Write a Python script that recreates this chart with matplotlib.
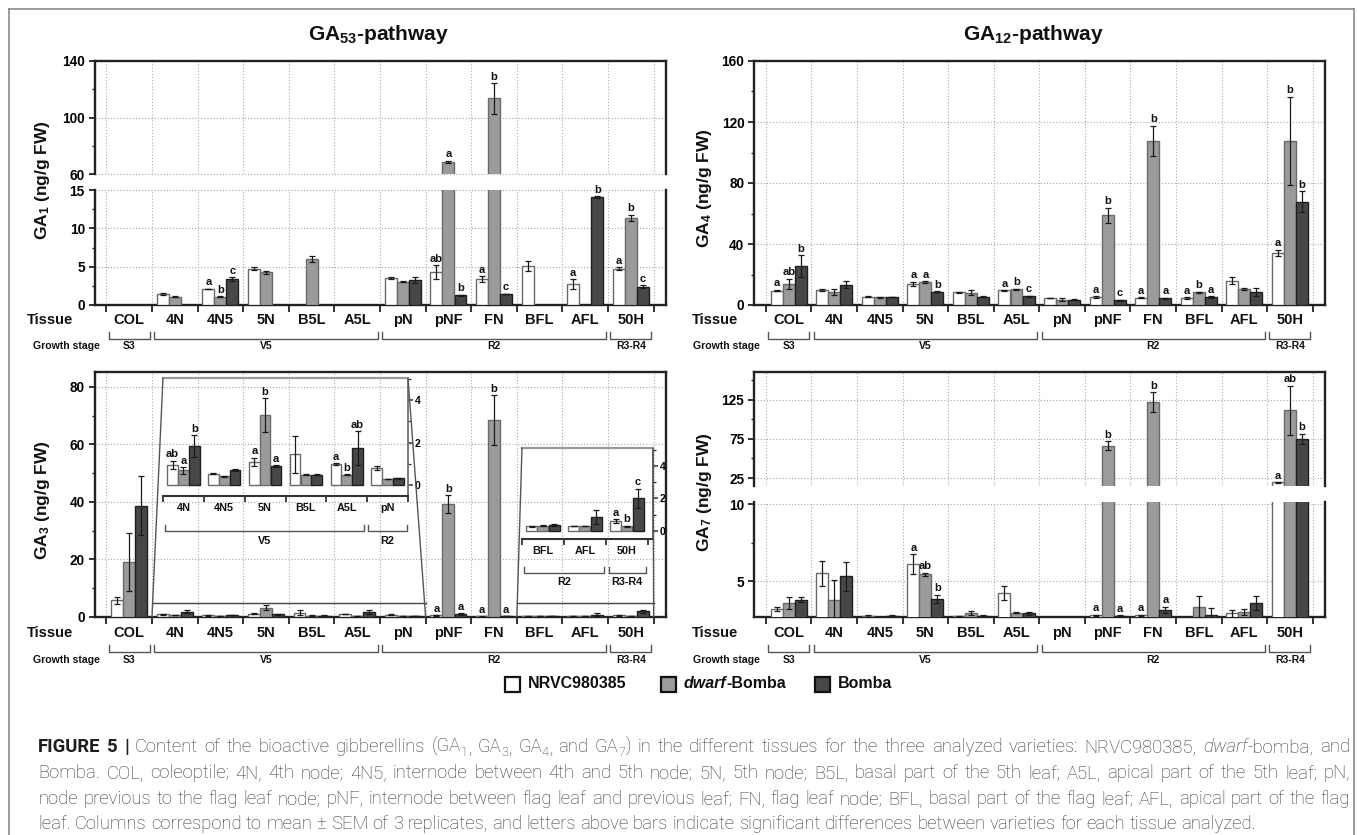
import re
import numpy as np
import matplotlib
matplotlib.use("Agg")
import matplotlib.pyplot as plt
from matplotlib import font_manager as fm
from matplotlib.transforms import blended_transform_factory
from matplotlib.patches import Rectangle, ConnectionPatch
from matplotlib.lines import Line2D

nan = np.nan

# ---------------- data ----------------
tissues = ["COL", "4N", "4N5", "5N", "B5L", "A5L", "pN", "pNF", "FN", "BFL", "AFL", "50H"]
stages = ["S3", "V5", "R2", "R3-R4"]
stage_first = [0, 1, 6, 11]
stage_last = [0, 5, 10, 11]
varieties = ["NRVC980385", "dwarf-Bomba", "Bomba"]

# GA1 (ng/g FW)
ga1_nrvc = [nan, 1.45, 2.1, 4.75, nan, nan, 3.5, 4.3, 3.4, 5.1, 2.7, 4.75]
ga1_nrvc_err = [0, 0.1, 0.05, 0.2, 0, 0, 0.12, 0.9, 0.35, 0.7, 0.65, 0.15]
ga1_dwarf = [nan, 1.1, 1.1, 4.3, 6.0, nan, 3.05, 68.7, 113.5, nan, nan, 11.4]
ga1_dwarf_err = [0, 0.03, 0.05, 0.2, 0.45, 0, 0.05, 0.6, 10.8, 0, 0, 0.4]
ga1_bomba = [nan, nan, 3.35, nan, nan, nan, 3.3, 1.25, 1.45, nan, 14.1, 2.4]
ga1_bomba_err = [0, 0, 0.25, 0, 0, 0, 0.4, 0.08, 0.05, 0, 0.1, 0.2]
ga1_let_nrvc = ["", "", "a", "", "", "", "", "ab", "a", "", "a", "a"]
ga1_let_dwarf = ["", "", "b", "", "", "", "", "a", "b", "", "", "b"]
ga1_let_bomba = ["", "", "c", "", "", "", "", "b", "c", "", "b", "c"]

# GA4
ga4_nrvc = [9.5, 9.8, 5.4, 14.0, 8.3, 9.6, 4.5, 5.3, 4.8, 4.5, 16.0, 34.3]
ga4_nrvc_err = [0.5, 0.7, 0.2, 1.3, 0.5, 0.3, 0.2, 0.4, 0.2, 0.5, 2.5, 2.0]
ga4_dwarf = [14.0, 8.5, 5.0, 15.0, 8.0, 10.2, 3.6, 58.8, 107.5, 8.3, 10.6, 107.5]
ga4_dwarf_err = [3.2, 2.2, 0.2, 0.5, 1.6, 0.4, 0.7, 5.0, 10.0, 0.4, 0.7, 29.0]
ga4_bomba = [25.5, 13.3, 5.3, 8.8, 5.5, 5.8, 3.5, 3.0, 4.3, 5.2, 8.4, 67.8]
ga4_bomba_err = [7.2, 2.3, 0.2, 0.3, 0.2, 0.4, 0.2, 0.6, 0.5, 0.5, 2.5, 6.8]
ga4_let_nrvc = ["a", "", "", "a", "", "a", "", "a", "a", "a", "", "a"]
ga4_let_dwarf = ["ab", "", "", "a", "", "b", "", "b", "b", "b", "", "b"]
ga4_let_bomba = ["b", "", "", "b", "", "c", "", "c", "a", "a", "", "b"]

# GA3
ga3_nrvc = [5.8, 0.95, 0.55, 1.1, 1.45, 1.0, 0.8, 0.6, 0.2, 0.28, 0.3, 0.6]
ga3_nrvc_err = [1.2, 0.2, 0.03, 0.2, 0.85, 0.03, 0.1, 0.1, 0.05, 0.03, 0.02, 0.12]
ga3_dwarf = [19.2, 0.7, 0.42, 3.3, 0.5, 0.5, 0.3, 39.2, 68.5, 0.32, 0.3, 0.28]
ga3_dwarf_err = [10.0, 0.15, 0.02, 0.8, 0.03, 0.02, 0.02, 3.2, 8.7, 0.03, 0.02, 0.03]
ga3_bomba = [38.7, 1.85, 0.72, 0.9, 0.5, 1.75, 0.33, 1.0, 0.3, 0.37, 0.85, 2.0]
ga3_bomba_err = [10.3, 0.5, 0.03, 0.05, 0.03, 0.8, 0.02, 0.4, 0.05, 0.05, 0.45, 0.6]
ga3_let_nrvc = ["", "ab", "", "a", "", "a", "", "a", "a", "", "", "a"]
ga3_let_dwarf = ["", "a", "", "b", "", "b", "", "b", "b", "", "", "b"]
ga3_let_bomba = ["", "b", "", "a", "", "ab", "", "a", "a", "", "", "c"]
ga3_inset1_idx = [1, 2, 3, 4, 5, 6]
ga3_inset2_idx = [9, 10, 11]
ga3_main_letter_idx = [7, 8]

# GA7
ga7_nrvc = [3.2, 5.5, 2.75, 6.1, 2.72, 4.25, nan, 2.78, 2.78, nan, 2.9, 19.5]
ga7_nrvc_err = [0.13, 0.8, 0.05, 0.65, 0.03, 0.45, 0, 0.05, 0.05, 0, 0.22, 0.3]
ga7_dwarf = [3.58, 3.8, nan, 5.43, 2.93, 2.95, nan, 66.3, 122.0, 3.35, 3.0, 111.4]
ga7_dwarf_err = [0.4, 1.25, 0, 0.12, 0.13, 0.03, 0, 6.0, 12.5, 0.65, 0.18, 31.0]
ga7_bomba = [3.8, 5.3, 2.75, 3.86, 2.72, 2.9, nan, 2.74, 3.15, 2.78, 3.55, 74.8]
ga7_bomba_err = [0.18, 0.95, 0.08, 0.25, 0.06, 0.08, 0, 0.04, 0.2, 0.45, 0.45, 6.5]
ga7_let_nrvc = ["", "", "", "a", "", "", "", "a", "a", "", "", "a"]
ga7_let_dwarf = ["", "", "", "ab", "", "", "", "b", "b", "", "", "ab"]
ga7_let_bomba = ["", "", "", "b", "", "", "", "a", "a", "", "", "b"]

caption_lines = [
    "**FIGURE** **5** **|** Content of the bioactive gibberellins (GA_{1}, GA_{3}, GA_{4}, and GA_{7}) in the different tissues for the three analyzed varieties: NRVC980385, *dwarf*-bomba, and",
    "Bomba. COL, coleoptile; 4N, 4th node; 4N5, internode between 4th and 5th node; 5N, 5th node; B5L, basal part of the 5th leaf; A5L, apical part of the 5th leaf; pN,",
    "node previous to the flag leaf node; pNF, internode between flag leaf and previous leaf; FN, flag leaf node; BFL, basal part of the flag leaf; AFL, apical part of the flag",
    "leaf. Columns correspond to mean \u00b1 SEM of 3 replicates, and letters above bars indicate significant differences between varieties for each tissue analyzed.",
]

# ---------------- fonts ----------------
def font_ok(name):
    try:
        fm.findfont(fm.FontProperties(family=name), fallback_to_default=False)
        return True
    except Exception:
        return False

MAIN = "Liberation Sans" if font_ok("Liberation Sans") else "DejaVu Sans"
CAPF = "Roboto" if font_ok("Roboto") else MAIN
plt.rcParams["font.family"] = [MAIN, "DejaVu Sans"]
plt.rcParams["mathtext.fontset"] = "custom"
plt.rcParams["mathtext.rm"] = MAIN
plt.rcParams["mathtext.bf"] = MAIN + ":bold"
plt.rcParams["mathtext.it"] = MAIN + ":italic"

# ---------------- layout ----------------
W, H, DPI = 1357, 835, 100
fig = plt.figure(figsize=(W / DPI, H / DPI), dpi=DPI)
fig.patch.set_facecolor("white")


def fx(x):
    return x / W


def fy(y):
    return 1 - y / H


def add_ax(x0, y0, x1, y1):
    return fig.add_axes([x0 / W, 1 - y1 / H, (x1 - x0) / W, (y1 - y0) / H])


XLIM = (-0.76, 11.77)
DIV = np.arange(-0.5, 12.0, 1.0)
XS = np.arange(12)
OFF = [-0.265, 0.0, 0.265]
BW = 0.262
FC = ["white", "#9b9b9b", "#474747"]
EC = ["#6a6a6a", "#6a6a6a", "#1f1f1f"]
GRIDC = "#a9a9a9"
SPC = "#222222"
GRID_LS = (0, (1.0, 1.8))


def setup_axis(ax, ylim, major, minor, bottom=True, top=True):
    ax.set_xlim(*XLIM)
    ax.set_ylim(*ylim)
    ax.patch.set_alpha(0)
    for sp in ax.spines.values():
        sp.set_linewidth(1.7)
        sp.set_color(SPC)
    ax.spines["bottom"].set_visible(bottom)
    ax.spines["top"].set_visible(top)
    ax.set_yticks(major, labels=["%g" % m for m in major], fontsize=9.8, fontweight="bold")
    ax.set_yticks(minor, minor=True)
    ax.tick_params(axis="y", which="major", direction="out", length=4.5, width=1.3,
                   color=SPC, pad=2.5)
    ax.tick_params(axis="y", which="minor", direction="out", length=2.5, width=1.0, color=SPC)
    if bottom:
        ax.set_xticks(DIV, labels=[])
        ax.tick_params(axis="x", which="major", direction="out", length=5, width=1.3, color=SPC)
    else:
        ax.set_xticks([])
    ax.set_xticks([], minor=True)
    for d in DIV:
        ax.axvline(d, color=GRIDC, lw=0.8, ls=GRID_LS, zorder=0.5)
    lo, hi = ylim
    for m in major:
        if lo <= m <= hi:
            ax.axhline(m, color=GRIDC, lw=0.8, ls=GRID_LS, zorder=0.5, clip_on=False)


def draw_bars(ax, vals, errs, xs, width=BW, offs=OFF, lw=1.0, cap=2.3):
    for k in range(3):
        v = np.asarray(vals[k], float)
        e = np.asarray(errs[k], float)
        x = np.asarray(xs, float) + offs[k]
        m = ~np.isnan(v)
        ax.bar(x[m], v[m], width, color=FC[k], edgecolor=EC[k], linewidth=lw, zorder=3)
        me = m & (e > 0)
        if me.any():
            ax.errorbar(x[me], v[me], yerr=e[me], fmt="none", ecolor="#1a1a1a",
                        elinewidth=0.9, capsize=cap, capthick=0.9, zorder=4)


def draw_letters(axes, vals, errs, lets, xs, idx=None, offs=OFF, size=8):
    n = len(xs)
    for k in range(3):
        for i in range(n):
            if idx is not None and i not in idx:
                continue
            l = lets[k][i]
            if not l:
                continue
            top = vals[k][i] + errs[k][i]
            ax = axes[0]
            for a in axes:
                if a.get_ylim()[0] <= top:
                    ax = a
            ax.annotate(l, (xs[i] + offs[k], top), xytext=(0, 1.0), textcoords="offset points",
                        ha="center", va="bottom", fontsize=size, fontweight="bold",
                        color="#111", zorder=6)


def bracket(tr, x0, x1, y0, y1, color="#555", lw=1.0):
    fig.add_artist(Line2D([x0, x0, x1, x1], [fy(y0), fy(y1), fy(y1), fy(y0)],
                          transform=tr, color=color, lw=lw, clip_on=False))


def tissue_row(ax, y_t, y_b0, y_b1, y_s, tissue_px, gs_px):
    tr = blended_transform_factory(ax.transData, fig.transFigure)
    for i, t in enumerate(tissues):
        fig.text(i, fy(y_t), t, transform=tr, ha="center", va="center",
                 fontsize=10.5, fontweight="bold", color="#111")
    fig.text(fx(tissue_px), fy(y_t), "Tissue", ha="center", va="center",
             fontsize=10.5, fontweight="bold", color="#111")
    fig.text(fx(gs_px), fy(y_s), "Growth stage", ha="left", va="center",
             fontsize=7.6, fontweight="bold", color="#111")
    for s, a, b in zip(stages, stage_first, stage_last):
        x0, x1 = a - 0.45, b + 0.45
        bracket(tr, x0, x1, y_b0, y_b1)
        fig.text((x0 + x1) / 2, fy(y_s), s, transform=tr, ha="center", va="center",
                 fontsize=7.5, fontweight="bold", color="#111")


LX0, LX1 = 94.5, 666
RX0, RX1 = 754, 1325

# ---------------- GA1 (broken) ----------------
ga1_vals = [ga1_nrvc, ga1_dwarf, ga1_bomba]
ga1_errs = [ga1_nrvc_err, ga1_dwarf_err, ga1_bomba_err]
ga1_lets = [ga1_let_nrvc, ga1_let_dwarf, ga1_let_bomba]
a1u = add_ax(LX0, 61, LX1, 174)
a1l = add_ax(LX0, 190, LX1, 305)
setup_axis(a1u, (60, 140), [60, 100, 140], [80, 120], bottom=False, top=True)
setup_axis(a1l, (0, 15), [0, 5, 10, 15], [2.5, 7.5, 12.5], bottom=True, top=False)
for a in (a1u, a1l):
    draw_bars(a, ga1_vals, ga1_errs, XS)
draw_letters([a1l, a1u], ga1_vals, ga1_errs, ga1_lets, XS)
tissue_row(a1l, 320, 332, 339, 346, 50, 33)
fig.text(fx(378), fy(35), r"GA$_\mathbf{53}$-pathway", ha="center", va="center",
         fontsize=15, fontweight="bold", color="#111")
fig.text(fx(43), fy(180), r"GA$_\mathbf{1}$ (ng/g FW)", rotation=90, ha="center",
         va="center", fontsize=12.5, fontweight="bold", color="#111")

# ---------------- GA4 ----------------
ga4_vals = [ga4_nrvc, ga4_dwarf, ga4_bomba]
ga4_errs = [ga4_nrvc_err, ga4_dwarf_err, ga4_bomba_err]
ga4_lets = [ga4_let_nrvc, ga4_let_dwarf, ga4_let_bomba]
a4 = add_ax(RX0, 61, RX1, 305)
setup_axis(a4, (0, 160), [0, 40, 80, 120, 160], [20, 60, 100, 140])
draw_bars(a4, ga4_vals, ga4_errs, XS)
draw_letters([a4], ga4_vals, ga4_errs, ga4_lets, XS)
tissue_row(a4, 320, 332, 339, 346, 715, 693)
fig.text(fx(1033), fy(35), r"GA$_\mathbf{12}$-pathway", ha="center", va="center",
         fontsize=15, fontweight="bold", color="#111")
fig.text(fx(705), fy(188), r"GA$_\mathbf{4}$ (ng/g FW)", rotation=90, ha="center",
         va="center", fontsize=12.5, fontweight="bold", color="#111")

# ---------------- GA3 with insets ----------------
ga3_vals = [ga3_nrvc, ga3_dwarf, ga3_bomba]
ga3_errs = [ga3_nrvc_err, ga3_dwarf_err, ga3_bomba_err]
ga3_lets = [ga3_let_nrvc, ga3_let_dwarf, ga3_let_bomba]
a3 = add_ax(LX0, 372, LX1, 617)
setup_axis(a3, (0, 85.2), [0, 20, 40, 60, 80], [10, 30, 50, 70])
draw_bars(a3, ga3_vals, ga3_errs, XS)
draw_letters([a3], ga3_vals, ga3_errs, ga3_lets, XS, idx=ga3_main_letter_idx)
tissue_row(a3, 633, 645, 652, 660, 50, 33)
fig.text(fx(43), fy(500), r"GA$_\mathbf{3}$ (ng/g FW)", rotation=90, ha="center",
         va="center", fontsize=12.5, fontweight="bold", color="#111")


def make_inset(box, idx, xlim, ylim, lab_y, brs, br_y0, br_y1, br_ly, zoom_x0, zoom_x1):
    ins = add_ax(*box)
    ins.set_xlim(*xlim)
    ins.set_ylim(*ylim)
    ins.patch.set_alpha(0)
    sub_v = [[ga3_vals[k][i] for i in idx] for k in range(3)]
    sub_e = [[ga3_errs[k][i] for i in idx] for k in range(3)]
    sub_l = [[ga3_lets[k][i] for i in idx] for k in range(3)]
    xs = np.arange(len(idx))
    draw_bars(ins, sub_v, sub_e, xs, lw=1.0, cap=2.0)
    draw_letters([ins], sub_v, sub_e, sub_l, xs, size=8)
    ins.spines["left"].set_visible(False)
    ins.spines["top"].set_color("#9a9a9a")
    ins.spines["top"].set_linewidth(1.6)
    ins.spines["right"].set_color("#6f6f6f")
    ins.spines["right"].set_linewidth(1.3)
    ins.spines["bottom"].set_color("#333")
    ins.spines["bottom"].set_linewidth(1.5)
    ins.yaxis.tick_right()
    ins.set_yticks([0, 2, 4], labels=["0", "2", "4"], fontsize=7.5, fontweight="bold")
    ins.set_yticks([1, 3, 5], minor=True)
    ins.tick_params(axis="y", which="major", direction="out", length=3.5, width=1.1,
                    color="#333", pad=1.5)
    ins.tick_params(axis="y", which="minor", direction="out", length=2.0, width=0.9, color="#333")
    ins.set_xticks(np.arange(-0.5, len(idx)), labels=[])
    ins.tick_params(axis="x", direction="out", length=4, width=1.3, color="#333")
    tr = blended_transform_factory(ins.transData, fig.transFigure)
    for j, i in enumerate(idx):
        fig.text(j, fy(lab_y), tissues[i], transform=tr, ha="center", va="center",
                 fontsize=7.8, fontweight="bold", color="#111")
    for name, x0, x1 in brs:
        bracket(tr, x0, x1, br_y0, br_y1, color="#555", lw=1.0)
        fig.text((x0 + x1) / 2, fy(br_ly), name, transform=tr, ha="center", va="center",
                 fontsize=7.8, fontweight="bold", color="#111")
    for ax_x, dx in ((0, zoom_x0), (1, zoom_x1)):
        cp = ConnectionPatch(xyA=(ax_x, 1), coordsA=ins.transAxes, xyB=(dx, 0),
                             coordsB=a3.transData, color="#555", lw=1.0)
        fig.add_artist(cp)
    a3.plot([zoom_x0, zoom_x1], [5, 5], color="#444", lw=1.0, zorder=5, clip_on=False)
    return ins


ins1 = make_inset((163, 378, 408, 496), ga3_inset1_idx, (-0.5, 5.5), (-0.5, 5.04), 508,
                  [("V5", -0.45, 4.42), ("R2", 4.52, 5.47)], 525, 531, 541, 0.5, 6.5)
ins2 = make_inset((522, 448, 653, 539), ga3_inset2_idx, (-0.5, 2.62), (-0.5, 5.1), 551,
                  [("R2", -0.45, 1.45), ("R3-R4", 1.57, 2.45)], 567, 573, 582, 8.5, 11.5)

# ---------------- GA7 (broken) ----------------
ga7_vals = [ga7_nrvc, ga7_dwarf, ga7_bomba]
ga7_errs = [ga7_nrvc_err, ga7_dwarf_err, ga7_bomba_err]
ga7_lets = [ga7_let_nrvc, ga7_let_dwarf, ga7_let_bomba]
a7u = add_ax(RX0, 372, RX1, 486)
a7l = add_ax(RX0, 502, RX1, 617)
setup_axis(a7u, (15, 160), [25, 75, 125], [50, 100, 150], bottom=False, top=True)
setup_axis(a7l, (2.67, 10.13), [5, 10], [7.5], bottom=True, top=False)
for a in (a7u, a7l):
    draw_bars(a, ga7_vals, ga7_errs, XS)
draw_letters([a7l, a7u], ga7_vals, ga7_errs, ga7_lets, XS)
tissue_row(a7l, 633, 645, 652, 660, 715, 693)
fig.text(fx(705), fy(492), r"GA$_\mathbf{7}$ (ng/g FW)", rotation=90, ha="center",
         va="center", fontsize=12.5, fontweight="bold", color="#111")

# ---------------- legend ----------------
renderer = fig.canvas.get_renderer()
leg_y = 684
leg_boxes = [505, 661, 815]
leg_text_x = [528, 684, 838]
for k in range(3):
    fig.add_artist(Rectangle((fx(leg_boxes[k]), fy(leg_y + 7.5)), 15 / W, 15 / H,
                             transform=fig.transFigure, facecolor=FC[k], edgecolor="#111",
                             lw=1.6))
fig.text(fx(leg_text_x[0]), fy(leg_y), varieties[0], ha="left", va="center",
         fontsize=11.5, fontweight="bold", color="#111")
t_it = fig.text(fx(leg_text_x[1]), fy(leg_y), "dwarf", ha="left", va="center",
                fontsize=11.5, fontweight="bold", style="italic", color="#111")
w_it = t_it.get_window_extent(renderer).width
fig.text(fx(leg_text_x[1] + w_it), fy(leg_y), "-Bomba", ha="left", va="center",
         fontsize=11.5, fontweight="bold", color="#111")
fig.text(fx(leg_text_x[2]), fy(leg_y), varieties[2], ha="left", va="center",
         fontsize=11.5, fontweight="bold", color="#111")

# ---------------- caption ----------------
CAPC = "#333333"


def parse_word(w):
    pieces = []
    for m in re.finditer(r"\*\*([^*]*)\*\*|_\{([^}]*)\}|\*([^*]*)\*|([^_*]+)", w):
        if m.group(1) is not None:
            pieces.append((m.group(1), "b"))
        elif m.group(2) is not None:
            pieces.append((m.group(2), "sub"))
        elif m.group(3) is not None:
            pieces.append((m.group(3), "it"))
        else:
            pieces.append((m.group(4), "n"))
    return pieces


def props(kind, size):
    d = dict(fontsize=size, family=[CAPF, "DejaVu Sans"], color=CAPC, weight="light")
    if kind == "sub":
        d["fontsize"] = size * 0.68
    elif kind == "it":
        d["style"] = "italic"
    elif kind == "b":
        d["weight"] = "bold"
        d["color"] = "#1e1e1e"
    return d


def measure(s, p):
    t = fig.text(0, 0, s, **p)
    w = t.get_window_extent(renderer).width
    t.remove()
    return w


def line_words(line):
    return [parse_word(w) for w in line.split(" ")]


def word_width(word, size):
    return sum(measure(s, props(k, size)) for s, k in word)


base = 10.0
words4 = line_words(caption_lines[3])
sp0 = measure("a a", props("n", base)) - measure("aa", props("n", base))
nat = sum(word_width(w, base) for w in words4) + sp0 * (len(words4) - 1)
CAPS = base * 1224.0 / nat

cap_x0, cap_x1 = 38, 1350
cap_base = [752, 778, 804, 829]
space_w = measure("a a", props("n", CAPS)) - measure("aa", props("n", CAPS))
for li, line in enumerate(caption_lines):
    words = line_words(line)
    widths = [word_width(w, CAPS) for w in words]
    if li < 3:
        gap = (cap_x1 - cap_x0 - sum(widths)) / (len(words) - 1)
    else:
        gap = space_w
    x = cap_x0
    for w, ww in zip(words, widths):
        xx = x
        for s, k in w:
            p = props(k, CAPS)
            yoff = (CAPS * 0.22 * DPI / 72.0) if k == "sub" else 0.0
            fig.text(fx(xx), fy(cap_base[li] + yoff), s, ha="left", va="baseline", **p)
            xx += measure(s, p)
        x += ww + gap

# ---------------- frame ----------------
for xs_, ys_ in (([9, 9], [835, 9]), ([9, 1354], [9, 9]), ([1354, 1354], [9, 835])):
    fig.add_artist(Line2D([fx(v) for v in xs_], [fy(v) for v in ys_], transform=fig.transFigure,
                          color="#8a8a8a", lw=1.2))

fig.savefig("out.png", dpi=DPI)
